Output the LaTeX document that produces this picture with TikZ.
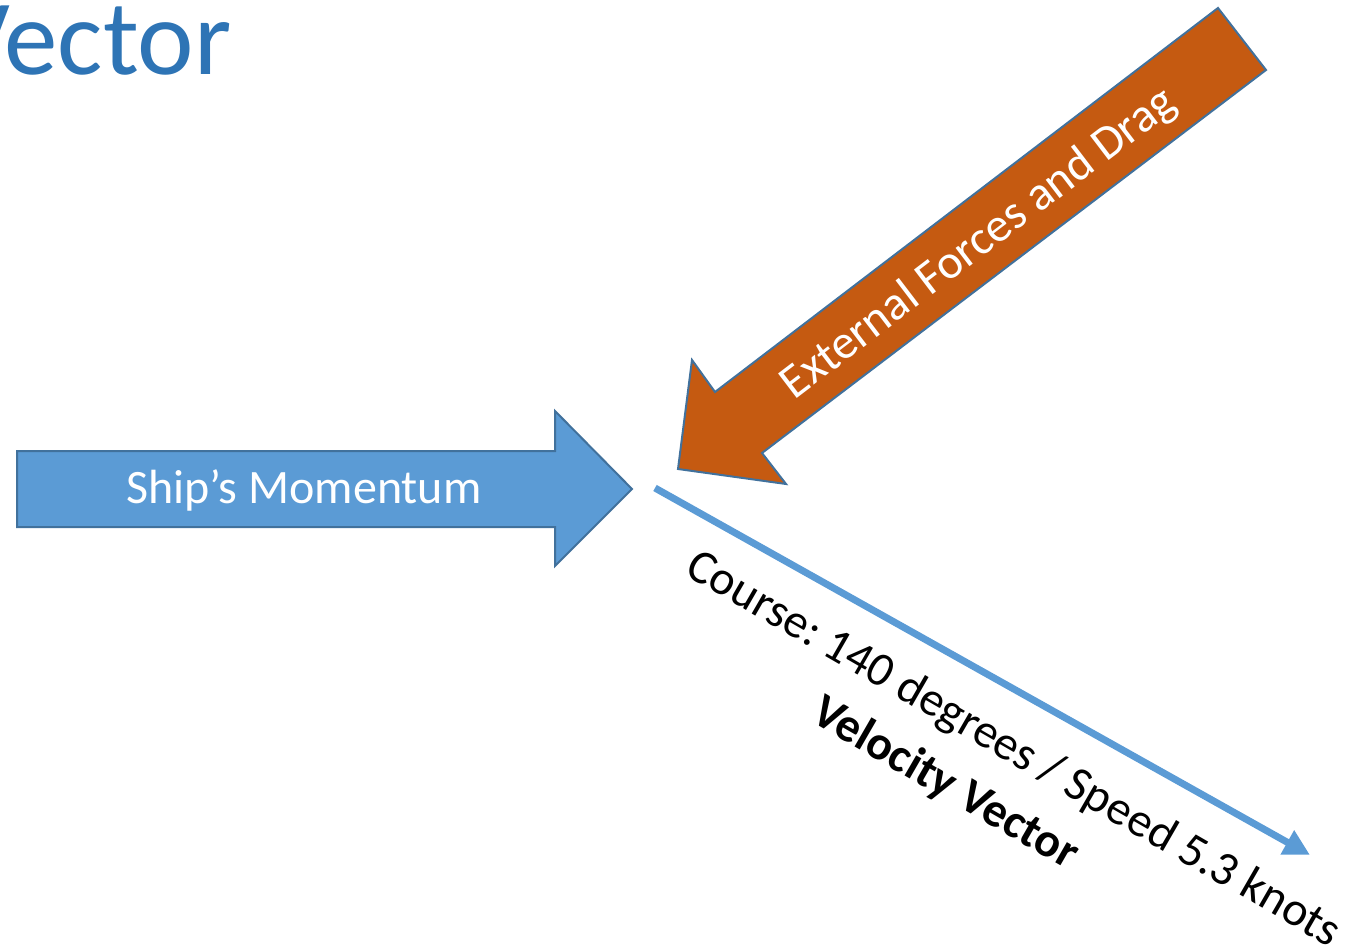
\documentclass[tikz,border=0pt]{standalone}
\usepackage{fontspec}
\setmainfont{Carlito}
\usetikzlibrary{arrows.meta}
\definecolor{titleblue}{HTML}{2E74B5}
\definecolor{accentblue}{HTML}{5B9BD5}
\definecolor{edgeblue}{HTML}{41719C}
\definecolor{forceorange}{HTML}{C55A11}
\frenchspacing
\tikzset{
  blockarrow/.style={draw=edgeblue, line width=2pt, line join=miter},
  arrowlabel/.style={text=white, inner sep=0pt, font=\fontsize{48}{58}\selectfont},
  vectorlabel/.style={text=black, inner sep=0pt, font=\fontsize{48}{58}\selectfont},
}
\begin{document}
\begin{tikzpicture}[x=1pt, y=-1pt]
\useasboundingbox (0,0) rectangle (1345,950);
\clip (0,0) rectangle (1345,950);

% slide title, running off the left edge
\node[anchor=base west, inner sep=0pt, text=titleblue,
      font=\fontsize{107}{125}\selectfont] (title) at (-51,75) {Vector};

% ship's momentum block arrow
\draw[blockarrow, fill=accentblue]
  (17,451) -- (555,451) -- (555,411) -- (632,489) -- (555,566)
  -- (555,527) -- (17,527) -- cycle;
\node[arrowlabel, anchor=base] (momentum) at (304,503) {Ship’s Momentum};

% external forces block arrow
\draw[blockarrow, fill=forceorange]
  (1218,8) -- (1266,70) -- (762,453) -- (786,484) -- (678,469)
  -- (692,360) -- (715,392) -- cycle;
\node[arrowlabel, rotate=37.3] (forces) at (979,244) {External Forces and Drag};

% resulting velocity vector
\coordinate (vstart) at (655,488);
\coordinate (vend) at (1310,855);
\draw[accentblue, line width=7pt, -{Triangle[length=26pt, width=26pt]}]
  (vstart) -- (vend);
\node[vectorlabel, rotate=-30] (course) at (1013,750)
  {Course: 140 degrees / Speed 5.3 knots};
\node[vectorlabel, rotate=-30, font=\fontsize{48}{58}\selectfont\bfseries]
  (velocity) at (945,784) {Velocity Vector};
\end{tikzpicture}
\end{document}
